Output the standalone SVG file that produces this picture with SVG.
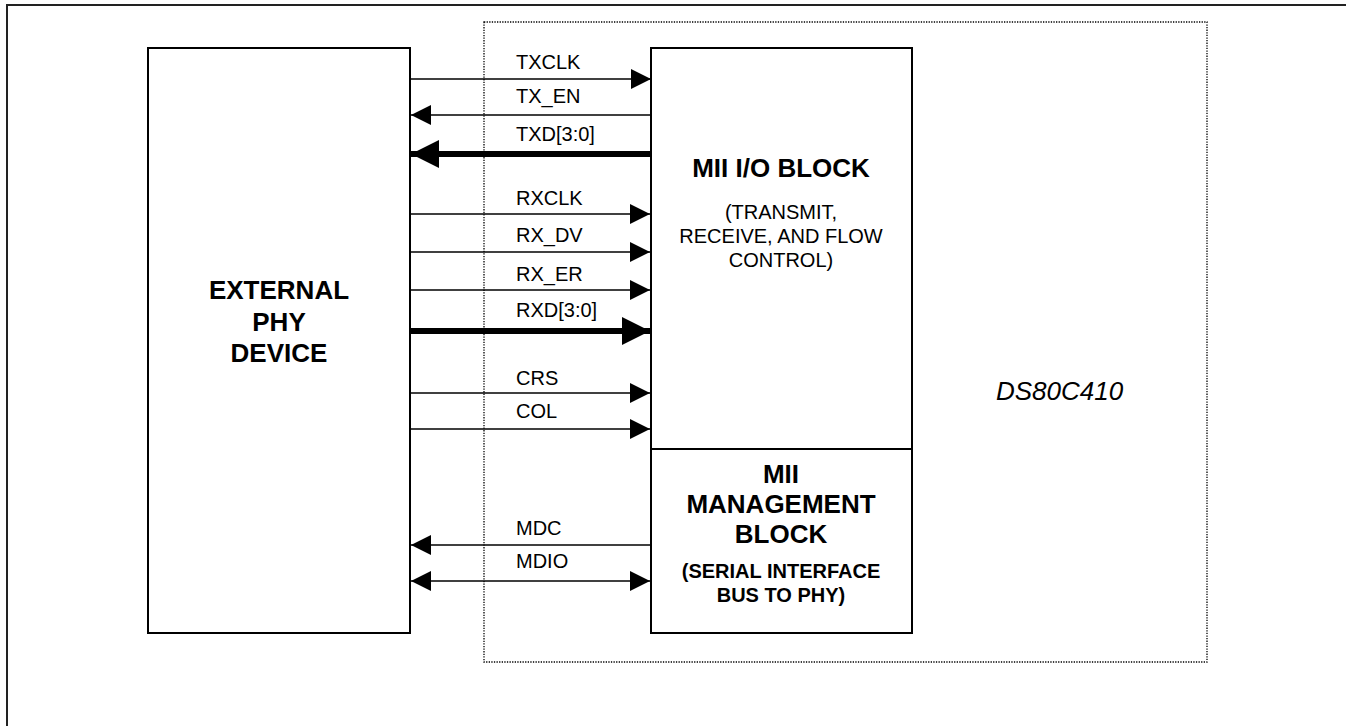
<svg xmlns="http://www.w3.org/2000/svg" width="1346" height="726" viewBox="0 0 1346 726">
<style>
.box{fill:#fff;stroke:#000;stroke-width:2}
.ln{stroke:#000;stroke-width:1.6;fill:none}
.thk{stroke:#000;stroke-width:6;fill:none}
.lbl{font-family:"Liberation Sans",Arial,sans-serif;font-size:20px;fill:#000}
.ttl{font-family:"Liberation Sans",Arial,sans-serif;font-size:26px;font-weight:bold;fill:#000;text-anchor:middle}
.sub{font-family:"Liberation Sans",Arial,sans-serif;font-size:20px;fill:#000;text-anchor:middle}
.subb{font-family:"Liberation Sans",Arial,sans-serif;font-size:20px;font-weight:bold;fill:#000;text-anchor:middle}
</style>
<defs>
<marker id="ah" markerUnits="userSpaceOnUse" markerWidth="20" markerHeight="20" refX="20" refY="10" orient="auto-start-reverse"><path d="M0,0 L20,10 L0,20 z" fill="#000"/></marker>
<marker id="ahT" markerUnits="userSpaceOnUse" markerWidth="28" markerHeight="28" refX="28" refY="14" orient="auto-start-reverse"><path d="M0,0 L28,14 L0,28 z" fill="#000"/></marker>
</defs>
<rect width="1346" height="726" fill="#fff"/>
<g id="frame">
<path d="M7,726 L7,5 L1346,5" fill="none" stroke="#222" stroke-width="2"/>
</g>
<g id="ds80c410">
<rect x="484" y="22" width="723" height="640" fill="none" stroke="#000" stroke-width="1.3" stroke-dasharray="1.3 1.3"/>
<text x="996" y="400" class="lbl" style="font-size:26px;font-style:italic">DS80C410</text>
</g>
<g id="phy">
<rect class="box" x="148" y="48" width="262" height="585"/>
<text class="ttl" x="279" y="299">EXTERNAL</text>
<text class="ttl" x="279" y="331">PHY</text>
<text class="ttl" x="279" y="362">DEVICE</text>
</g>
<g id="mii-io">
<rect class="box" x="651" y="48" width="261" height="401"/>
<text class="ttl" x="781" y="177">MII I/O BLOCK</text>
<text class="sub" x="781" y="219">(TRANSMIT,</text>
<text class="sub" x="781" y="243">RECEIVE, AND FLOW</text>
<text class="sub" x="781" y="267">CONTROL)</text>
</g>
<g id="mii-mgmt">
<rect class="box" x="651" y="449" width="261" height="184"/>
<text class="ttl" x="781" y="483">MII</text>
<text class="ttl" x="781" y="513">MANAGEMENT</text>
<text class="ttl" x="781" y="543">BLOCK</text>
<text class="subb" x="781" y="578">(SERIAL INTERFACE</text>
<text class="subb" x="781" y="602">BUS TO PHY)</text>
</g>
<g id="connectors">
<line class="ln" x1="410" y1="79" x2="651" y2="79" marker-end="url(#ah)"/>
<line class="ln" x1="651" y1="115" x2="411" y2="115" marker-end="url(#ah)"/>
<line class="thk" x1="651" y1="154" x2="411" y2="154" marker-end="url(#ahT)"/>
<line class="ln" x1="410" y1="214" x2="650" y2="214" marker-end="url(#ah)"/>
<line class="ln" x1="410" y1="252" x2="650" y2="252" marker-end="url(#ah)"/>
<line class="ln" x1="410" y1="290" x2="650" y2="290" marker-end="url(#ah)"/>
<line class="thk" x1="410" y1="331" x2="650" y2="331" marker-end="url(#ahT)"/>
<line class="ln" x1="410" y1="393" x2="650" y2="393" marker-end="url(#ah)"/>
<line class="ln" x1="410" y1="429" x2="650" y2="429" marker-end="url(#ah)"/>
<line class="ln" x1="651" y1="545" x2="411" y2="545" marker-end="url(#ah)"/>
<line class="ln" x1="411" y1="581" x2="650" y2="581" marker-start="url(#ah)" marker-end="url(#ah)"/>
<text class="lbl" x="516" y="69">TXCLK</text>
<text class="lbl" x="516" y="103">TX_EN</text>
<text class="lbl" x="516" y="141">TXD[3:0]</text>
<text class="lbl" x="516" y="205">RXCLK</text>
<text class="lbl" x="516" y="242">RX_DV</text>
<text class="lbl" x="516" y="281">RX_ER</text>
<text class="lbl" x="516" y="317">RXD[3:0]</text>
<text class="lbl" x="516" y="385">CRS</text>
<text class="lbl" x="516" y="418">COL</text>
<text class="lbl" x="516" y="535">MDC</text>
<text class="lbl" x="516" y="568">MDIO</text>
</g>
</svg>
